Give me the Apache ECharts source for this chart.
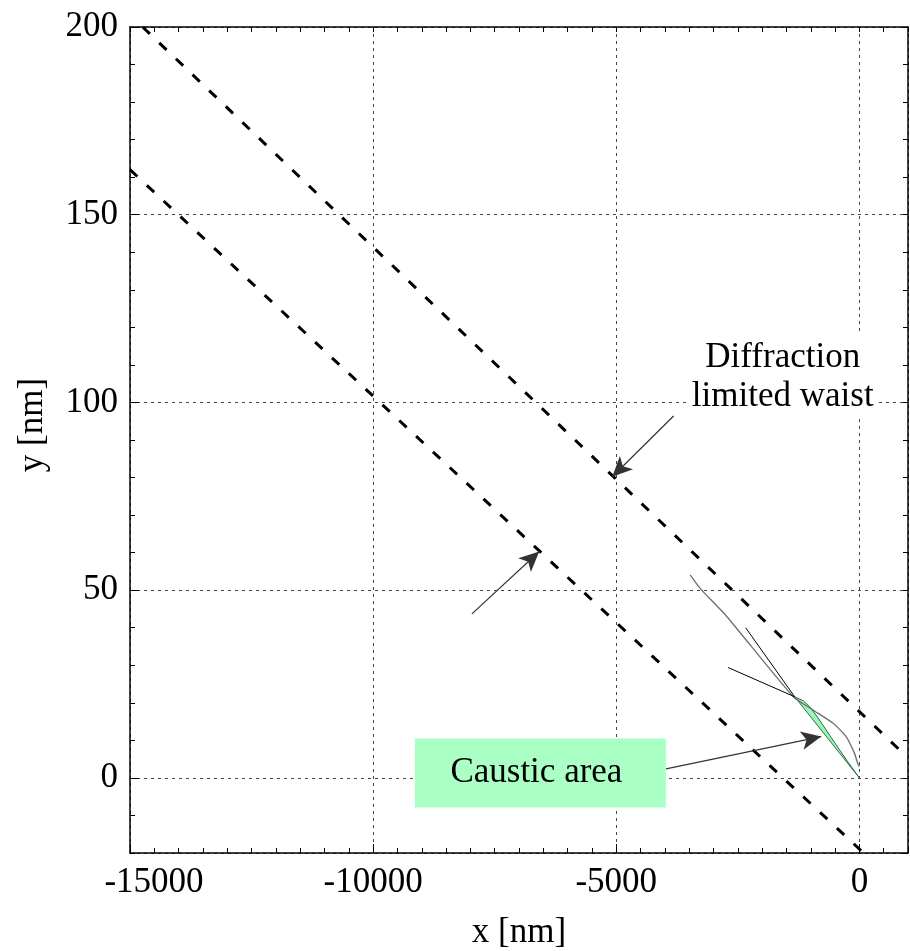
<!DOCTYPE html>
<html>
<head>
<meta charset="utf-8">
<script src="https://cdn.jsdelivr.net/npm/echarts@6/dist/echarts.min.js"></script>
<style>
  html, body { margin: 0; background: #fff; }
  #chart { width: 910px; height: 951px; }
</style>
</head>
<body>
<div id="chart"></div>
<script>
// axis ranges
const xRange = [-15000, 1000]
const yRange = [-20, 200]

// diffraction limited waist (two dashed lines), [x nm, y nm]
const upperWaist = [[-14740, 200], [1000, 5.3]]
const lowerWaist = [[-15000, 162], [1000, -31]]

// ray curves near the focus
const grayRay = [[-3479, 54.1], [-3275, 50.5], [-2728, 43.0], [-1365, 21.7], [-956, 18.1],
  [-546, 14.6], [-272, 11.0], [-102, 6.6], [-35, 3.9], [0, 3.0]]
const steepRay = [[-2339, 40.0], [-1330, 21.6]]
const flatRay = [[-2700, 29.4], [-1330, 21.6]]

// caustic sliver: right edge down to focus, then left edge back up
const causticRight = [[-1330, 21.6], [-1150, 20.5], [-1023, 19.0], [-850, 16.0], [-546, 10.1], [-250, 4.5], [0, 0]]
const causticLeft = [[0, 0], [-665, 10.8], [-1330, 21.6]]

// annotations
const causticLabelAt = [-6560, 1.3]
const waistLabelAt = [-1576, 106.8]
const arrowFrom = [[-3821, 96.4], [-7968, 43.7], [-3977, 2.4]]
const arrowTo = [[-5082, 80.2], [-6584, 60.3], [-784, 11.0]]

const FONT = 'Liberation Serif, Times New Roman, serif'
const textBase = { fontFamily: FONT, fontSize: 35, color: '#000' }

const chart = echarts.init(document.getElementById('chart'))

function tickAxis(position, range, interval, showLine) {
  return {
    type: 'value',
    position,
    min: range[0],
    max: range[1],
    interval,
    axisLine: { show: showLine, onZero: false, lineStyle: { color: '#000', width: 1.5 } },
    axisTick: { show: true, inside: true, length: 5, lineStyle: { color: '#000' } },
    axisLabel: { show: false },
    splitLine: { show: false }
  }
}

const option = {
  animation: false,
  backgroundColor: '#fff',
  grid: { left: 130, right: 2, top: 27, bottom: 98, outerBoundsMode: 'none', containLabel: false },
  xAxis: [
    {
      type: 'value',
      position: 'bottom',
      min: xRange[0],
      max: xRange[1],
      interval: 5000,
      name: 'x [nm]',
      nameLocation: 'middle',
      nameGap: 62,
      nameTextStyle: textBase,
      axisLine: { show: true, onZero: false, lineStyle: { color: '#000', width: 1.5 } },
      axisTick: { show: true, inside: true, length: 9, lineStyle: { color: '#000' } },
      axisLabel: {
        ...textBase,
        margin: 12,
        showMaxLabel: false,
        formatter: v => v === xRange[0] ? '{first|' + v + '}' : String(v),
        rich: { first: { ...textBase, padding: [0, 0, 0, 48] } }
      },
      splitLine: { show: true, lineStyle: { color: '#444', width: 1, type: [3, 4] } }
    },
    tickAxis('top', xRange, 500, true),
    tickAxis('bottom', xRange, 500, false)
  ],
  yAxis: [
    {
      type: 'value',
      position: 'left',
      min: yRange[0],
      max: yRange[1],
      splitNumber: 5,
      name: 'y [nm]',
      nameLocation: 'middle',
      nameGap: 80,
      nameTextStyle: { ...textBase, padding: [0, 0, 0, 30] },
      axisLine: { show: true, onZero: false, lineStyle: { color: '#000', width: 1.5 } },
      axisTick: { show: true, inside: true, length: 9, lineStyle: { color: '#000' } },
      axisLabel: { ...textBase, margin: 12, showMinLabel: false },
      splitLine: { show: true, lineStyle: { color: '#444', width: 1, type: [3, 4] } }
    },
    tickAxis('right', yRange, 10, true),
    tickAxis('left', yRange, 10, false)
  ],
  series: [
    {
      type: 'custom',
      xAxisIndex: 0,
      yAxisIndex: 0,
      silent: true,
      data: [causticRight[0]],
      renderItem: (params, api) => {
        const pts = causticRight.concat(causticLeft).map(p => api.coord(p))
        return {
          type: 'polygon',
          shape: { points: pts },
          style: { fill: '#9ef5b9', stroke: '#2d6e45', lineWidth: 1 }
        }
      }
    },
    {
      type: 'line', data: upperWaist, showSymbol: false, silent: true,
      lineStyle: { color: '#000', width: 3, type: [10, 13] }
    },
    {
      type: 'line', data: lowerWaist, showSymbol: false, silent: true,
      lineStyle: { color: '#000', width: 3, type: [10, 13] }
    },
    {
      type: 'line', data: grayRay, showSymbol: false, silent: true, smooth: 0.2,
      lineStyle: { color: '#6e6e6e', width: 1.3 }
    },
    {
      type: 'line', data: steepRay, showSymbol: false, silent: true,
      lineStyle: { color: '#000', width: 1 }
    },
    {
      type: 'line', data: flatRay, showSymbol: false, silent: true,
      lineStyle: { color: '#000', width: 1 }
    },
    {
      type: 'scatter',
      silent: true,
      z: 5,
      data: [causticLabelAt],
      symbol: 'rect',
      symbolSize: [251, 69],
      itemStyle: { color: '#aaffc4', opacity: 1 },
      label: { show: true, position: 'inside', offset: [-4, 0], formatter: 'Caustic area', ...textBase },
      markLine: {
        silent: true,
        symbol: ['none', 'arrow'],
        symbolSize: 18,
        label: { show: false },
        lineStyle: { color: '#333', width: 1.2, type: 'solid' },
        data: arrowFrom.map((p, i) => [
          { coord: p },
          { coord: arrowTo[i], symbol: 'arrow', symbolSize: [14, 20] }
        ])
      }
    },
    {
      type: 'scatter',
      silent: true,
      z: 5,
      data: [waistLabelAt],
      symbolSize: 1,
      itemStyle: { color: '#fff', opacity: 1 },
      label: {
        show: true,
        position: 'inside',
        formatter: 'Diffraction\nlimited waist',
        ...textBase,
        align: 'center',
        lineHeight: 39,
        backgroundColor: '#fff',
        padding: [3, 5]
      }
    }
  ]
}

chart.setOption(option)
</script>
</body>
</html>
